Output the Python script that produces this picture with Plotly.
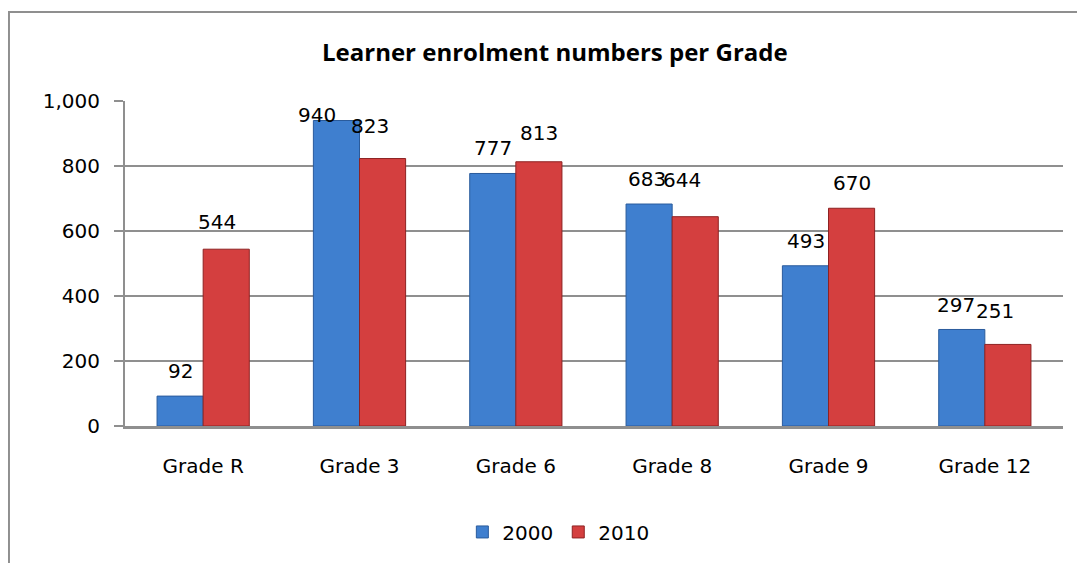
import plotly.graph_objects as go

categories = ["Grade R", "Grade 3", "Grade 6", "Grade 8", "Grade 9", "Grade 12"]
series_names = ["2000", "2010"]
values_2000 = [92, 940, 777, 683, 493, 297]
values_2010 = [544, 823, 813, 644, 670, 251]
y_ticks = [0, 200, 400, 600, 800, 1000]

# label placement (pixels): horizontal shift and gap above bar top
label_dx_2000 = [0, -20, 0, -2, 0, -6]
label_gap_2000 = [17, 17, 17, 17, 17, 16]
label_dx_2010 = [-9, -13, 0, -13, 0, -13]
label_gap_2010 = [19, 25, 21, 29, 17, 25]

BLUE = "#3f7fcf"
BLUE_EDGE = "#2a5b9c"
RED = "#d43f3f"
RED_EDGE = "#8e2222"
GRID = "#8f8f8f"
FONT = "DejaVu Sans"

fig = go.Figure()
fig.add_trace(go.Bar(name=series_names[0], x=categories, y=values_2000,
                     marker=dict(color=BLUE, line=dict(color=BLUE_EDGE, width=1))))
fig.add_trace(go.Bar(name=series_names[1], x=categories, y=values_2010,
                     marker=dict(color=RED, line=dict(color=RED_EDGE, width=1))))

# data labels
px_per_unit = 325 / 1000.0
DESC = 6  # text box bottom below glyph baseline
annotations = []
for vals, base_dx, dxs, gaps in ((values_2000, -23, label_dx_2000, label_gap_2000),
                                 (values_2010, 23, label_dx_2010, label_gap_2010)):
    for c, v, dx, g in zip(categories, vals, dxs, gaps):
        top_limit = 1000 - 28 / px_per_unit
        y_lab = min(v + (g - DESC) / px_per_unit, top_limit)
        annotations.append(dict(x=c, y=y_lab, xref="x", yref="y", text=str(v),
                                showarrow=False, yanchor="bottom", xanchor="center",
                                xshift=base_dx + dx,
                                font=dict(family=FONT, size=20, color="#000")))

fig.update_layout(
    width=1085, height=563,
    margin=dict(l=117, r=30, t=93, b=145),
    paper_bgcolor="white", plot_bgcolor="white",
    barmode="group", bargap=0.41, bargroupgap=0,
    title=dict(text="<b>Learner enrolment numbers per Grade</b>",
               font=dict(family="Open Sans", size=24, color="#000"),
               x=0.504, xanchor="center", y=0.92, yanchor="middle"),
    font=dict(family=FONT, size=20, color="#000"),
    showlegend=True,
    legend=dict(orientation="h", x=0.462, xanchor="center", y=-0.326, yanchor="middle",
                font=dict(family=FONT, size=20), itemwidth=30, tracegroupgap=0),
    annotations=annotations,
    shapes=[dict(type="rect", xref="paper", yref="paper",
                 x0=-0.1237, x1=1.2, y0=-0.45, y1=1.274,
                 line=dict(color=GRID, width=2), fillcolor="rgba(0,0,0,0)", layer="below")],
)
fig.update_xaxes(showline=True, linecolor=GRID, linewidth=3, ticks="",
                 ticklabelstandoff=20, tickfont=dict(family=FONT, size=20))
fig.update_yaxes(range=[0, 1000], tickvals=y_ticks, tickformat=",",
                 showgrid=True, gridcolor=GRID, gridwidth=2,
                 showline=True, linecolor=GRID, linewidth=2,
                 ticks="outside", ticklen=9, tickcolor=GRID, tickwidth=2,
                 ticklabelstandoff=10,
                 zeroline=False, tickfont=dict(family=FONT, size=20))

fig.write_html("out.html")
